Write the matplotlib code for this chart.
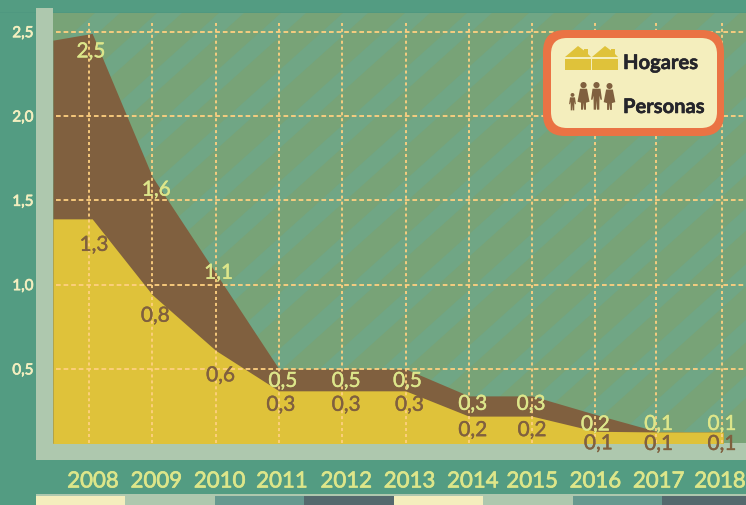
import matplotlib
matplotlib.use('Agg')
import matplotlib.pyplot as plt
import matplotlib.patheffects as pe
from matplotlib.patches import Rectangle, Polygon, Circle, FancyBboxPatch
from matplotlib.transforms import ScaledTranslation

plt.rcParams['font.family'] = ['Lato', 'DejaVu Sans']

years = [2008, 2009, 2010, 2011, 2012, 2013, 2014, 2015, 2016, 2017, 2018]
# outlines of the two areas
area_x = [2007.43, 2008.05, 2009, 2010, 2011, 2012, 2013, 2014, 2015, 2016, 2017, 2018.02]
personas = [2.45, 2.49, 1.64, 1.07, 0.50, 0.50, 0.50, 0.34, 0.34, 0.23, 0.126, 0.126]
hogares = [1.39, 1.39, 0.94, 0.61, 0.37, 0.37, 0.37, 0.22, 0.22, 0.13, 0.126, 0.126]
# printed labels
personas_lab = ['2,5', '1,6', '1,1', '0,5', '0,5', '0,5', '0,3', '0,3', '0,2', '0,1', '0,1']
hogares_lab = ['1,3', '0,8', '0,6', '0,3', '0,3', '0,3', '0,2', '0,2', '0,1', '0,1', '0,1']
y_ticks = [0.5, 1.0, 1.5, 2.0, 2.5]
y_labels = ['0,5', '1,0', '1,5', '2,0', '2,5']

TEAL = '#539C82'
SAGE = '#AEC8AE'
BROWN = '#80603F'
YELLOW = '#DFC23A'
ORANGE = '#EA7344'
CREAM = '#F4EEBD'
LIME = '#DDE68A'
GRID = '#FFD080'

W, H = 746, 506
fig = plt.figure(figsize=(W / 100, H / 100), dpi=100, facecolor=TEAL)


def pixel_axes(z):
    a = fig.add_axes([0, 0, 1, 1], zorder=z)
    a.set_xlim(0, W)
    a.set_ylim(H, 0)
    a.axis('off')
    return a


def thicken(t, width, colour):
    t.set_path_effects([pe.withStroke(linewidth=width, foreground=colour)])


# background, stripes and side bands
bg = pixel_axes(-1)
plot_rect = Rectangle((53, 14), W - 53, 430, fc='#78A377', ec='none')
bg.add_patch(plot_rect)
for k in range(-2, 16):
    x0 = 343 + 62 * (k - 2)
    st = Polygon([(x0, 14), (x0 + 25, 14), (x0 + 25 - 478, 444), (x0 - 478, 444)],
                 fc='#70A685', ec='none')
    bg.add_patch(st)
    st.set_clip_path(plot_rect)
bg.add_patch(Rectangle((0, 12.5), W, 1.5, fc='#4F9880', ec='none'))
bg.add_patch(Rectangle((36, 9), 17, 452, fc=SAGE, ec='none'))
bg.add_patch(Rectangle((36, 444), W - 36, 17, fc=SAGE, ec='none'))
bg.add_patch(Rectangle((36, 495), W - 36, 2, fc=SAGE, ec='none'))
strip_x = [36, 125, 215, 304, 394, 483, 573, 662, 746]
strip_c = [CREAM, SAGE, '#66998F', '#54696D', CREAM, SAGE, '#66998F', '#54696D']
for i in range(8):
    bg.add_patch(Rectangle((strip_x[i], 497), strip_x[i + 1] - strip_x[i], 9, fc=strip_c[i], ec='none'))

# chart
ax = fig.add_axes([53 / W, (H - 444) / H, (W - 53) / W, 430 / H], zorder=1)
ax.patch.set_visible(False)
ax.set_xlim(2007.431, 2018.379)
ax.set_ylim(0.0605, 2.611)
for s in ax.spines.values():
    s.set_visible(False)

ax.fill_between(area_x, 0, personas, color=BROWN, lw=0, zorder=1)
ax.fill_between(area_x, 0, hogares, color=YELLOW, lw=0, zorder=2)

grid_x = list(years)
grid_x[9] = 2016.95
ax.hlines(y_ticks, 2007.48, 2018.379, color=GRID, lw=1.3, linestyles=(0, (2.6, 1.6)), zorder=3)
ax.vlines(grid_x, 0.0605, 2.55, color=GRID, lw=1.3, linestyles=(0, (1.7, 1.6)), zorder=3)

ax.set_yticks(y_ticks, y_labels)
ax.set_xticks(years, [str(y) for y in years])
ax.tick_params(axis='y', length=0, pad=14, labelsize=11, labelcolor='#F4EFC0')
ax.tick_params(axis='x', length=0, pad=20.5, labelsize=16, labelcolor=LIME)
year_dx = [4, 4, 4, 3, 4, 4, 4, 0, 0, 0, -2]
for lab, dx in zip(ax.get_xticklabels(), year_dx):
    lab.set_transform(lab.get_transform() + ScaledTranslation(dx / 100, 0, fig.dpi_scale_trans))
    thicken(lab, 0.5, LIME)
for lab in ax.get_yticklabels():
    thicken(lab, 0.5, '#F4EFC0')

# value labels: pixel offsets from the area top at each year
top_y = [2.49, 1.64, 1.07, 0.50, 0.50, 0.50, 0.34, 0.34, 0.23, 0.126, 0.126]
low_y = [1.39, 0.94, 0.61, 0.37, 0.37, 0.37, 0.22, 0.22, 0.13, 0.126, 0.126]
top_dx = [2, 4, 3, 4, 4, 2, 4, -1, 0, 0, 0]
top_dy = [-18, -13, 0, -12, -12, -12, -8, -8, -10, 8, 8]
low_dx = [5, 3, 5, 2, 4, 4, 4, 0, 3, 0, 0]
low_dy = [-26, -21, -25, -14, -14, -14, -14, -14, -12, -12, -12]
for i, y in enumerate(years):
    t = ax.annotate(personas_lab[i], (y, top_y[i]), xytext=(top_dx[i], top_dy[i]), textcoords='offset pixels',
                    ha='center', va='center', fontsize=15, color=LIME, zorder=5)
    thicken(t, 0.3, LIME)
    t = ax.annotate(hogares_lab[i], (y, low_y[i]), xytext=(low_dx[i], low_dy[i]), textcoords='offset pixels',
                    ha='center', va='center', fontsize=15, color=BROWN, zorder=5)
    thicken(t, 0.3, BROWN)

# key box with little drawn icons
lg = pixel_axes(5)
lg.add_patch(FancyBboxPatch((543 + 22, 31 + 22), 181 - 44, 106 - 44, boxstyle='round,pad=22,rounding_size=22',
                            fc=ORANGE, ec='none'))
lg.add_patch(FancyBboxPatch((551 + 16, 39 + 16), 166 - 32, 90 - 32, boxstyle='round,pad=16,rounding_size=16',
                            fc=CREAM, ec='none'))


def house(x):
    lg.add_patch(Polygon([(x, 58), (x + 13, 47), (x + 19, 51.5), (x + 19, 50), (x + 23, 50),
                          (x + 23, 55), (x + 26, 58)], fc=YELLOW, ec='none'))
    lg.add_patch(Rectangle((x, 59.5), 26, 11.5, fc=YELLOW, ec='none'))


def person(x, top, scale, dress):
    hr = 3.1 * scale
    lg.add_patch(Circle((x, top + hr), hr, fc=BROWN, ec='none'))
    t = top + 2 * hr + 0.5
    s = scale
    if dress:
        body = [(x - 3.5 * s, t), (x + 3.5 * s, t), (x + 6 * s, t + 13 * s), (x + 2.5 * s, t + 14 * s),
                (x + 2.5 * s, t + 21 * s), (x + 0.5 * s, t + 21 * s), (x, t + 14 * s), (x - 0.5 * s, t + 21 * s),
                (x - 2.5 * s, t + 21 * s), (x - 2.5 * s, t + 14 * s), (x - 6 * s, t + 13 * s)]
    else:
        body = [(x - 4 * s, t), (x + 4 * s, t), (x + 5.5 * s, t + 11 * s), (x + 4 * s, t + 11 * s),
                (x + 3 * s, t + 7 * s), (x + 2.8 * s, t + 21 * s), (x + 0.5 * s, t + 21 * s), (x, t + 12 * s),
                (x - 0.5 * s, t + 21 * s), (x - 2.8 * s, t + 21 * s), (x - 3 * s, t + 7 * s), (x - 4 * s, t + 11 * s),
                (x - 5.5 * s, t + 11 * s)]
    lg.add_patch(Polygon(body, fc=BROWN, ec='none'))


house(565)
house(592)
person(572.5, 94, 0.62, False)
person(583.5, 83, 1.0, True)
person(596.5, 83, 1.0, False)
person(609.5, 84, 0.97, True)

for label, ypos in [('Hogares', 64), ('Personas', 108)]:
    t = lg.text(623, ypos, label, fontweight='bold', fontsize=14.5, color='#25252B', va='center', ha='left')
    thicken(t, 0.4, '#25252B')

fig.savefig('out.png', dpi=100, facecolor=fig.get_facecolor())
